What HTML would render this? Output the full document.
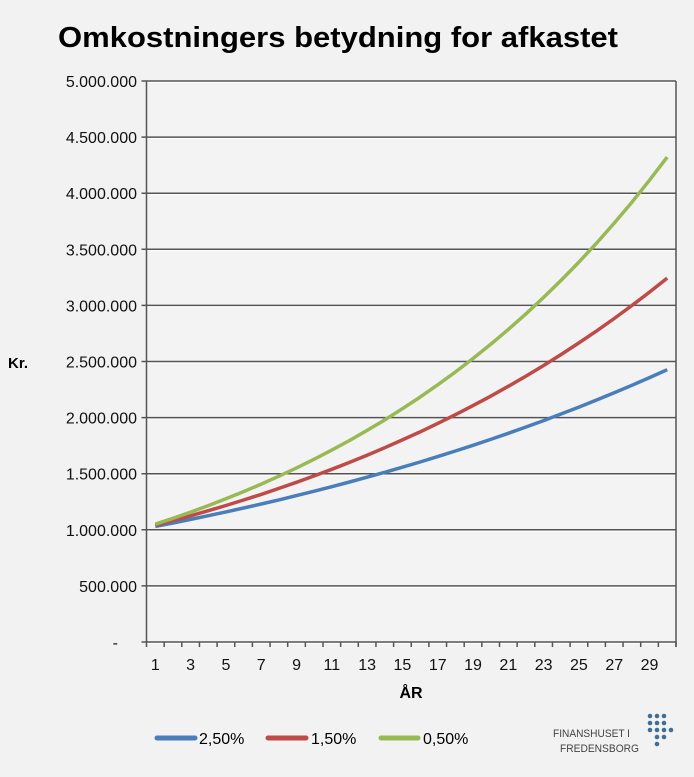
<!DOCTYPE html>
<html><head><meta charset="utf-8"><style>
html,body{margin:0;padding:0;background:#f2f2f2;}
svg{display:block;font-family:"Liberation Sans",sans-serif;}
</style></head><body>
<svg id="s" width="694" height="777" viewBox="0 0 694 777" xmlns="http://www.w3.org/2000/svg">
<rect width="694" height="777" fill="#f2f2f2"/>
<text x="58" y="47" font-size="29" font-weight="bold" textLength="560" lengthAdjust="spacingAndGlyphs" fill="#000">Omkostningers betydning for afkastet</text>
<g id="grid"></g>
<g id="series"></g>
<text x="18" y="368" font-size="15" font-weight="bold" text-anchor="middle">Kr.</text>
<text x="411" y="698" font-size="16" font-weight="bold" text-anchor="middle">ÅR</text>
<line x1="157" y1="738" x2="195" y2="738" stroke="#4a7ebb" stroke-width="5" stroke-linecap="round"/>
<text x="199" y="744" font-size="16">2,50%</text>
<line x1="268" y1="738" x2="306" y2="738" stroke="#be4b48" stroke-width="5" stroke-linecap="round"/>
<text x="311" y="744" font-size="16">1,50%</text>
<line x1="381" y1="738" x2="418" y2="738" stroke="#98b954" stroke-width="5" stroke-linecap="round"/>
<text x="423" y="744" font-size="16">0,50%</text>
<text x="553" y="737" font-size="11" fill="#444" textLength="77" lengthAdjust="spacingAndGlyphs">FINANSHUSET I</text>
<text x="560" y="752" font-size="11" fill="#444" textLength="79" lengthAdjust="spacingAndGlyphs">FREDENSBORG</text>
<g fill="#3f6f95" id="dots"></g>
</svg>
<script>
var ns="http://www.w3.org/2000/svg";
function el(t,a,p){var e=document.createElementNS(ns,t);for(var k in a)e.setAttribute(k,a[k]);p.appendChild(e);return e;}
var g=document.getElementById("grid"),sg=document.getElementById("series");
var L=146.5,R=676,T=81,B=642;
function Y(v){return B-(v/5e6)*(B-T);}
el("rect",{x:L,y:T,width:R-L,height:B-T,fill:"#f3f3f3"},g);
var labs=["-","500.000","1.000.000","1.500.000","2.000.000","2.500.000","3.000.000","3.500.000","4.000.000","4.500.000","5.000.000"];
for(var i=0;i<=10;i++){var y=Y(i*5e5);
el("line",{x1:L-5,y1:y,x2:R,y2:y,stroke:"#555",'stroke-width':1.5},g);
el("line",{x1:L,y1:y+1.5,x2:R,y2:y+1.5,stroke:"#fff",'stroke-width':1},g);
var t=el("text",{x:i==0?118:137,y:y+6,'font-size':16,'text-anchor':'end',fill:"#111"},g);t.textContent=labs[i];}
el("line",{x1:L,y1:T,x2:L,y2:B,stroke:"#555",'stroke-width':1.5},g);
el("line",{x1:R,y1:T,x2:R,y2:B+5,stroke:"#555",'stroke-width':1.5},g);
var cw=(R-L)/30;
for(var i=0;i<=30;i++){var x=L+i*cw;el("line",{x1:x,y1:B,x2:x,y2:B+5,stroke:"#555",'stroke-width':1.5},g);}
for(var n=1;n<=29;n+=2){var t=el("text",{x:L+(n-0.5)*cw,y:670,'font-size':16,'text-anchor':'middle',fill:"#111"},g);t.textContent=n;}
[[1.03,"#4a7ebb"],[1.04,"#be4b48"],[1.05,"#98b954"]].forEach(function(s){
var p=[];for(var n=1;n<=30;n++)p.push((L+(n-0.5)*cw).toFixed(1)+","+Y(1e6*Math.pow(s[0],n)).toFixed(1));
el("polyline",{points:p.join(" "),fill:"none",stroke:s[1],'stroke-width':3.5,'stroke-linejoin':'round'},sg);});
var d=document.getElementById("dots");
var pts=[[650,716],[657,716],[664,716],[650,723],[657,723],[664,723],[650,730],[657,730],[664,730],[671,730],[657,737],[664,737],[657,744]];
pts.forEach(function(q){el("circle",{cx:q[0],cy:q[1],r:2.3},d);});
</script>
</body></html>
